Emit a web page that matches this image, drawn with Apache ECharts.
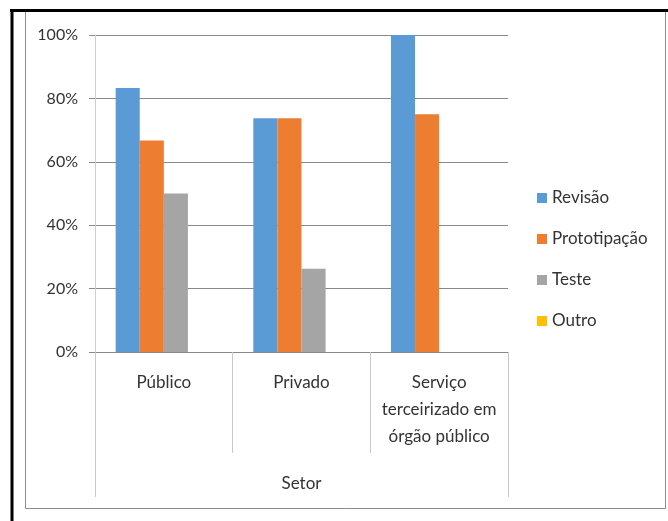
<!DOCTYPE html>
<html>
<head>
<meta charset="utf-8">
<script src="https://cdn.jsdelivr.net/npm/echarts@6/dist/echarts.min.js"></script>
<style>
html,body{margin:0;padding:0;background:#fff;}
#chart{width:668px;height:521px;}
</style>
</head>
<body>
<div id="chart"></div>
<script>
// dados
var setores = ['Público', 'Privado', 'Serviço\nterceirizado em\nórgão público'];
var revisao = [0.833, 0.737, 1.0];
var prototipacao = [0.667, 0.737, 0.75];
var teste = [0.5, 0.263, 0];
var outro = [0, 0, 0];
var nomes = ['Revisão', 'Prototipação', 'Teste', 'Outro'];
var cores = ['#5b9bd5', '#ed7d31', '#a5a5a5', '#ffc000'];

var fonte = 'Lato';
var myChart = echarts.init(document.getElementById('chart'));

var option = {
  animation: false,
  color: cores,
  textStyle: { fontFamily: fonte },
  grid: { left: 95, right: 160, top: 35, bottom: 169 },
  legend: {
    orient: 'vertical',
    left: 532,
    top: 184,
    itemWidth: 10,
    itemHeight: 10,
    itemGap: 23,
    icon: 'rect',
    textStyle: { fontFamily: fonte, fontSize: 17, color: '#333', lineHeight: 18 },
    data: nomes
  },
  xAxis: [
    {
      type: 'category',
      data: setores,
      axisLine: { lineStyle: { color: '#898989', width: 1 } },
      axisTick: { show: true, length: 101, lineStyle: { color: '#c8c8c8' } },
      axisLabel: { margin: 17, fontSize: 17, color: '#333', lineHeight: 27, interval: 0 }
    },
    {
      type: 'category',
      position: 'bottom',
      offset: 101,
      data: ['Setor'],
      axisLine: { show: false },
      axisTick: { show: true, length: 44, lineStyle: { color: '#c8c8c8' } },
      axisLabel: { margin: 22, fontSize: 17, color: '#333' }
    }
  ],
  yAxis: {
    type: 'value',
    min: 0,
    max: 1,
    interval: 0.2,
    axisLine: { show: true, lineStyle: { color: '#d0d0d0' } },
    axisTick: { show: true, length: 6, lineStyle: { color: '#898989' } },
    splitLine: { lineStyle: { color: '#898989' } },
    axisLabel: {
      margin: 17,
      fontSize: 16,
      color: '#333',
      formatter: function (v) { return Math.round(v * 100) + '%'; }
    }
  },
  series: [
    { name: nomes[0], type: 'bar', data: revisao, barGap: 0, barCategoryGap: '30%' },
    { name: nomes[1], type: 'bar', data: prototipacao },
    { name: nomes[2], type: 'bar', data: teste },
    { name: nomes[3], type: 'bar', data: outro }
  ],
  graphic: [
    { type: 'rect', shape: { x: 25.5, y: 10.5, width: 640, height: 498 }, style: { fill: 'none', stroke: '#8c8c8c', lineWidth: 1 }, silent: true },
    { type: 'line', shape: { x1: 10, y1: 10.5, x2: 668, y2: 10.5 }, style: { stroke: '#000', lineWidth: 3 }, silent: true },
    { type: 'line', shape: { x1: 12, y1: 9, x2: 12, y2: 521 }, style: { stroke: '#000', lineWidth: 3 }, silent: true }
  ]
};

myChart.setOption(option);
</script>
</body>
</html>
